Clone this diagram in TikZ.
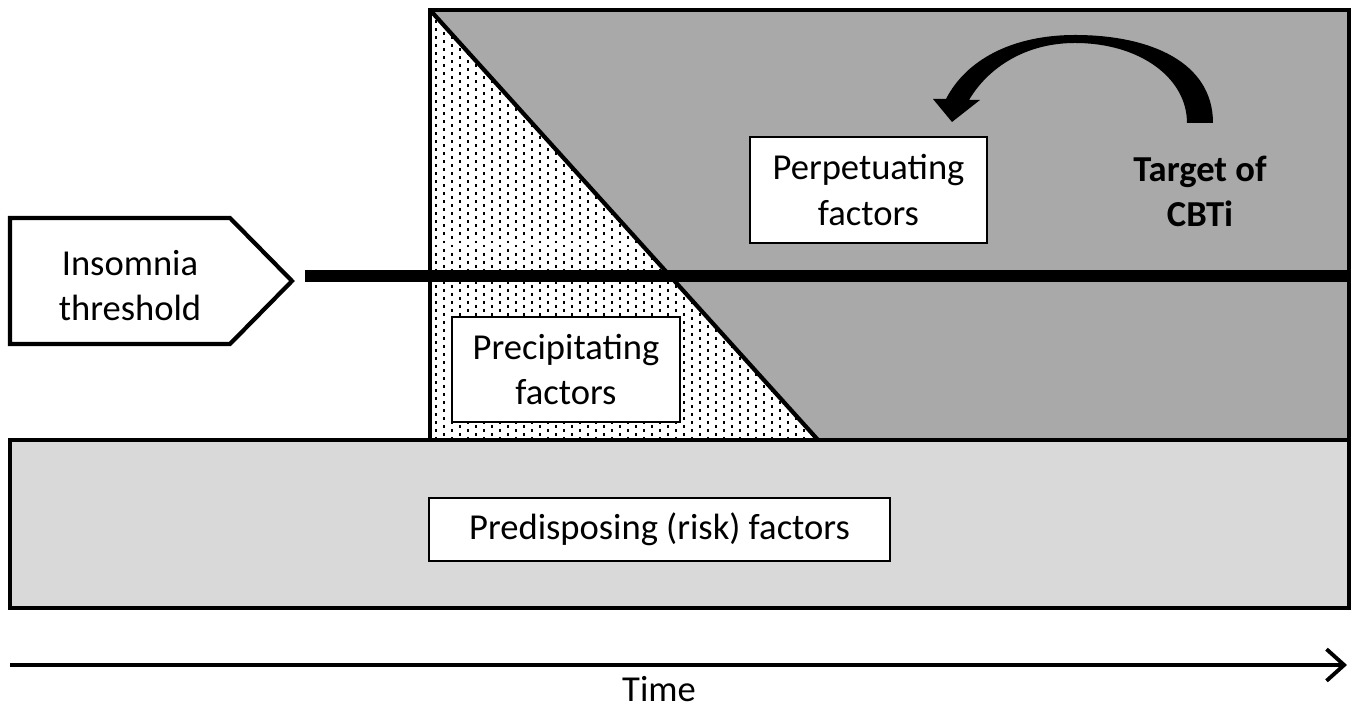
\documentclass[tikz,border=0pt]{standalone}
\usepackage{fontspec}
\setmainfont{Carlito}
\usetikzlibrary{arrows.meta}
\definecolor{darkgrey}{HTML}{A9A9A9}
\definecolor{lightgrey}{HTML}{D9D9D9}

\begin{document}
\begin{tikzpicture}[x=0.01cm, y=-0.01cm,
		box/.style = {draw, fill=white, line width=0.6pt, inner sep=0pt, align=center, font=\fontsize{10.4}{12.8}\selectfont},
		lbl/.style = {align=center, inner sep=0pt, font=\fontsize{10.4}{12.8}\selectfont},
		frame/.style = {draw, line width=1.2pt},
		dashcol/.style = {line width=0.45pt, dash pattern=on 0.85pt off 1.43pt}, >=Stealth]
					\useasboundingbox (0,0) rectangle (1357,707);
					\coordinate (TL) at (430,10);
					\coordinate (TR) at (1349,10);
					\coordinate (BL) at (430,440);
					\coordinate (BR) at (1349,440);
					\coordinate (D) at (818,440);
					% upper region and triangle
					\fill[darkgrey] (TL) rectangle (BR);
					\begin{scope}
						\clip (TL) -- (BL) -- (D) -- cycle;
						\fill[white] (TL) -- (BL) -- (D) -- cycle;
						\foreach \x in {436,452,...,820}
							\draw[dashcol] (\x,12) -- (\x,440);
						\foreach \x in {444,460,...,820}
							\draw[dashcol, dash phase=1.14pt] (\x,12) -- (\x,440);
					\end{scope}
					\draw[frame] (TL) -- (D);
					\draw[frame] (BL) -- (TL) -- (TR) -- (BR);
					% bottom band
					\draw[frame, fill=lightgrey] (10,440) rectangle (1349,608);
					\node[box, minimum width=4.61cm, minimum height=0.63cm] (pred) at (659.5,529.5) {Predisposing (risk) factors};
					% threshold
					\coordinate (P1) at (10,218);
					\coordinate (P2) at (230,218);
					\coordinate (P3) at (292,281);
					\coordinate (P4) at (230,344);
					\coordinate (P5) at (10,344);
					\draw[frame, fill=white] (P1) -- (P2) -- (P3) -- (P4) -- (P5) -- cycle;
					\node[lbl] (thr) at (130,286) {Insomnia\\threshold};
					\coordinate (L1) at (305,276);
					\coordinate (L2) at (1349,276);
					\draw[line width=3.3pt] (L1) -- (L2);
					% factor boxes
					\node[box, minimum width=2.28cm, minimum height=1.05cm] (prec) at (566,369.5) {Precipitating\\factors};
					\node[box, minimum width=2.37cm, minimum height=1.06cm] (perp) at (868.5,190) {Perpetuating\\factors};
					\node[lbl, font=\fontsize{10.4}{12.8}\selectfont\bfseries] (target) at (1200,191) {Target of\\CBTi};
					% curved arrow
					\fill (1213,123) .. controls (1213,62) and (1150,35) .. (1075,35)
						.. controls (1012,35) and (966,60) .. (946,99)
						-- (933,99) -- (952,122) -- (980,100) -- (969,100)
						.. controls (988,68) and (1025,43) .. (1075,43)
						.. controls (1140,43) and (1187,78) .. (1187,123) -- cycle;
					% time axis
					\coordinate (T0) at (10,665);
					\coordinate (T1) at (1347,665);
					\draw[line width=1.1pt, -{Straight Barb[length=5pt,width=9pt]}] (T0) -- (T1);
					\node[lbl] (time) at (659,689) {Time};
				\end{tikzpicture}
\end{document}
